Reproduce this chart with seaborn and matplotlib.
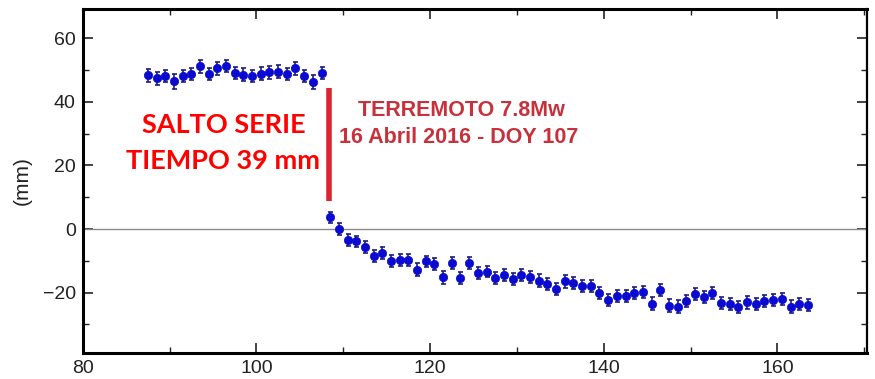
import matplotlib
matplotlib.use("Agg")
import matplotlib.pyplot as plt
import seaborn as sns
import pandas as pd
import numpy as np

# ---- data ----
doy_pre = list(range(87, 108))
val_pre = [48.3, 47.4, 48.1, 46.5, 48.1, 48.9, 51.2, 48.7, 50.5, 51.2, 49.1,
           48.5, 48.1, 48.9, 49.3, 49.5, 48.9, 50.6, 48.1, 46.4, 49.1]
doy_post = list(range(108, 164))
val_post = [3.7, 0.0, -3.4, -3.9, -5.7, -8.6, -7.6, -10.0, -9.7, -9.7, -12.8,
            -10.2, -10.9, -15.2, -10.7, -15.4, -10.7, -13.9, -13.4, -15.4, -14.6,
            -15.6, -14.4, -15.2, -16.2, -17.4, -18.9, -16.5, -17.1, -17.9, -17.9,
            -20.2, -22.3, -21.0, -21.0, -20.2, -19.7, -23.5, -19.1, -24.1, -24.4,
            -22.5, -20.4, -21.5, -20.0, -23.3, -23.5, -24.4, -23.1, -23.5, -22.7,
            -22.3, -22.0, -24.4, -23.5, -23.8]
err_pre = [2.0, 2.0, 2.0, 2.4, 1.8, 1.9, 2.0, 1.8, 1.9, 1.9, 2.0,
           2.0, 1.9, 2.0, 2.0, 2.1, 1.9, 2.0, 2.0, 2.2, 1.9]
err_post = [1.8, 1.8, 1.8, 1.8, 1.8, 1.9, 1.8, 1.9, 1.9, 1.9, 2.0,
            1.8, 1.9, 2.0, 1.9, 2.0, 1.9, 1.9, 1.8, 1.9, 1.9,
            1.9, 1.8, 1.9, 1.9, 1.9, 2.0, 1.9, 1.9, 1.9, 1.9,
            1.9, 1.9, 1.9, 1.9, 1.9, 1.9, 2.0, 1.9, 2.0, 2.0,
            1.9, 1.9, 1.9, 1.9, 2.0, 1.9, 1.9, 1.9, 1.9, 1.9,
            1.9, 1.9, 2.0, 1.9, 1.9]
day_offset = 0.5
jump_doy = 108
jump_top, jump_bottom = 44.5, 8.9
x_ticks = [80, 100, 120, 140, 160]
y_ticks = [-20, 0, 20, 40, 60]
y_label = "(mm)"
note_left = ["SALTO SERIE", "TIEMPO 39 mm"]
note_right = ["TERREMOTO 7.8Mw", "16 Abril 2016 - DOY 107"]

df = pd.DataFrame({
    "doy": [d + day_offset for d in doy_pre + doy_post],
    "mm": val_pre + val_post,
    "err": err_pre + err_post,
})

sns.set_theme(style="ticks")
plt.rcParams["font.family"] = ["Liberation Sans", "DejaVu Sans"]

fig = plt.figure(figsize=(8.75, 3.79), dpi=100)
ax = fig.add_axes([0.0945, 0.0694, 0.8963, 0.9068])

ax.axhline(0, color="#8a8a8a", lw=1.0, zorder=1)

ax.errorbar(df["doy"], df["mm"], yerr=df["err"], fmt="none",
            ecolor="#1c1c78", elinewidth=1.2, capsize=1.8, capthick=1.2, zorder=2)
sns.scatterplot(data=df, x="doy", y="mm", ax=ax, color="#0a0ad0",
                s=36, edgecolor="#0a0ad0", linewidth=0.5, zorder=3, legend=False)

ax.plot([jump_doy + day_offset - 0.1] * 2, [jump_bottom, jump_top],
        color="#dc2430", lw=4.0, solid_capstyle="butt", zorder=4)

ax.text(96.2, 32.6, note_left[0], color="#ff0000", fontsize=19.5,
        family=["Lato", "DejaVu Sans"], fontweight="bold", ha="center", va="center")
ax.text(96.2, 21.3, note_left[1], color="#ff0000", fontsize=19.5,
        family=["Lato", "DejaVu Sans"], fontweight="bold", ha="center", va="center")
ax.text(123.6, 37.4, note_right[0], color="#c8303c", fontsize=15.5,
        fontweight="bold", ha="center", va="center")
ax.text(123.3, 28.9, note_right[1], color="#c8303c", fontsize=15.5,
        fontweight="bold", ha="center", va="center")

ax.set_xlim(80, 170.3)
ax.set_ylim(-38.9, 69.2)
ax.set_xticks(x_ticks)
ax.set_yticks(y_ticks)
ax.set_xticks(np.arange(90, 171, 20), minor=True)
ax.set_yticks(np.arange(-30, 61, 20), minor=True)
ax.set_xlabel("")
ax.set_ylabel(y_label, fontsize=15, color="#222222", labelpad=8)

ax.tick_params(which="both", direction="in", top=True, right=True,
               colors="#222222", labelsize=14)
ax.tick_params(which="major", length=7, width=1.2, pad=5)
ax.tick_params(which="minor", length=4.5, width=1.0)

for side in ["left", "bottom", "top"]:
    ax.spines[side].set_linewidth(2.2)
    ax.spines[side].set_color("black")
ax.spines["right"].set_linewidth(1.6)
ax.spines["right"].set_color("black")

fig.savefig("out.png", dpi=100)
